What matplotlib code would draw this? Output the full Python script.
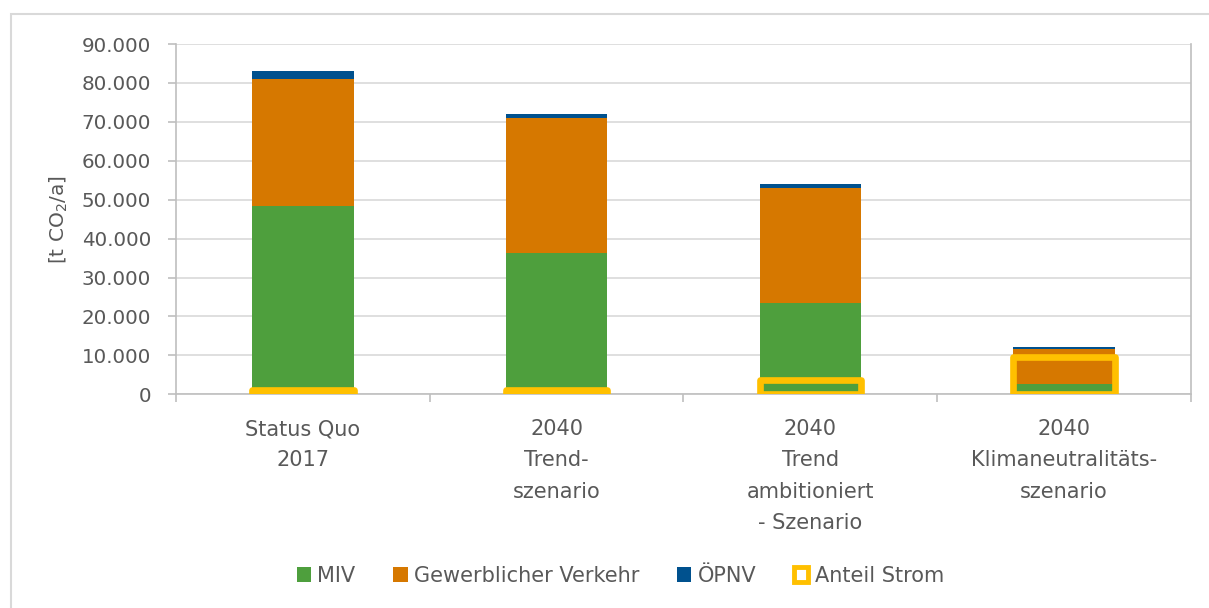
import matplotlib.pyplot as plt
from matplotlib.patches import Patch, Rectangle
from matplotlib.ticker import FuncFormatter, FixedLocator

# Szenarien und Emissionen je Sektor [t CO2/a]
szenarien = ['Status Quo\n2017', '2040\nTrend-\nszenario',
             '2040\nTrend\nambitioniert\n- Szenario', '2040\nKlimaneutralitäts-\nszenario']
miv = [48400, 36200, 23400, 2650]
gewerblich = [32600, 34900, 29700, 9000]
oepnv = [2100, 900, 900, 550]
anteil_strom = [1000, 1200, 3700, 9700]

farbe_miv = '#4e9f3d'
farbe_gew = '#d67800'
farbe_oepnv = '#00518e'
farbe_strom = '#ffc000'
textfarbe = '#595959'
grau = '#bfbfbf'

plt.rcParams['font.family'] = ['DejaVu Sans']
plt.rcParams['font.size'] = 14.5

fig = plt.figure(figsize=(12.09, 6.08), dpi=100)
ax = fig.add_axes([0.1456, 0.3515, 0.8394, 0.5761])

x = range(len(szenarien))
breite = 0.4
unten2 = [a + b for a, b in zip(miv, gewerblich)]

ax.bar(x, miv, breite, color=farbe_miv, zorder=2)
ax.bar(x, gewerblich, breite, bottom=miv, color=farbe_gew, zorder=2)
ax.bar(x, oepnv, breite, bottom=unten2, color=farbe_oepnv, zorder=2)
strom = ax.bar(x, anteil_strom, breite, fill=False, edgecolor=farbe_strom,
               linewidth=4.8, zorder=3)
for r in strom:
    r.set_joinstyle('round')

ax.set_xlim(-0.5, 3.5)
ax.set_ylim(0, 90000)
ax.set_yticks(range(0, 90001, 10000))
ax.yaxis.set_major_formatter(FuncFormatter(lambda v, p: f'{int(v):,}'.replace(',', '.')))
ax.grid(axis='y', color='#d9d9d9', linewidth=1.2, zorder=0)
ax.set_axisbelow(True)

ax.set_xticks(list(x))
ax.set_xticklabels(szenarien, color=textfarbe, linespacing=1.7, va='top', fontsize=15)
ax.xaxis.set_minor_locator(FixedLocator([-0.5, 0.5, 1.5, 2.5, 3.5]))
ax.tick_params(axis='x', which='major', length=0, pad=18)
ax.tick_params(axis='x', which='minor', length=6, width=1.2, color=grau, direction='out')
ax.tick_params(axis='y', length=6, width=1.2, color=grau, pad=12, labelcolor=textfarbe,
               labelsize=14.3)

for s in ax.spines.values():
    s.set_color(grau)
    s.set_linewidth(1.2)
ax.spines['top'].set_visible(False)

ax.set_ylabel(r'[t CO$_2$/a]', color=textfarbe, labelpad=8, fontsize=14.5)

# Legende unter dem Diagramm
griffe = [Patch(facecolor=farbe_miv, label='MIV'),
          Patch(facecolor=farbe_gew, label='Gewerblicher Verkehr'),
          Patch(facecolor=farbe_oepnv, label='ÖPNV'),
          Patch(facecolor='white', edgecolor=farbe_strom, linewidth=3.5,
                joinstyle='round', label='Anteil Strom')]
leg = fig.legend(handles=griffe, loc='center', bbox_to_anchor=(0.513, 0.053), ncol=4,
                 frameon=False, fontsize=15, handlelength=0.7, handleheight=0.7,
                 handletextpad=0.3, columnspacing=1.8)
for t in leg.get_texts():
    t.set_color(textfarbe)

# Rahmen um die Grafik
fig.patches.append(Rectangle((0.0091, -0.05), 1.1, 1.027, transform=fig.transFigure,
                             fill=False, edgecolor='#d9d9d9', linewidth=1.5))

fig.savefig('out.png', dpi=100)
